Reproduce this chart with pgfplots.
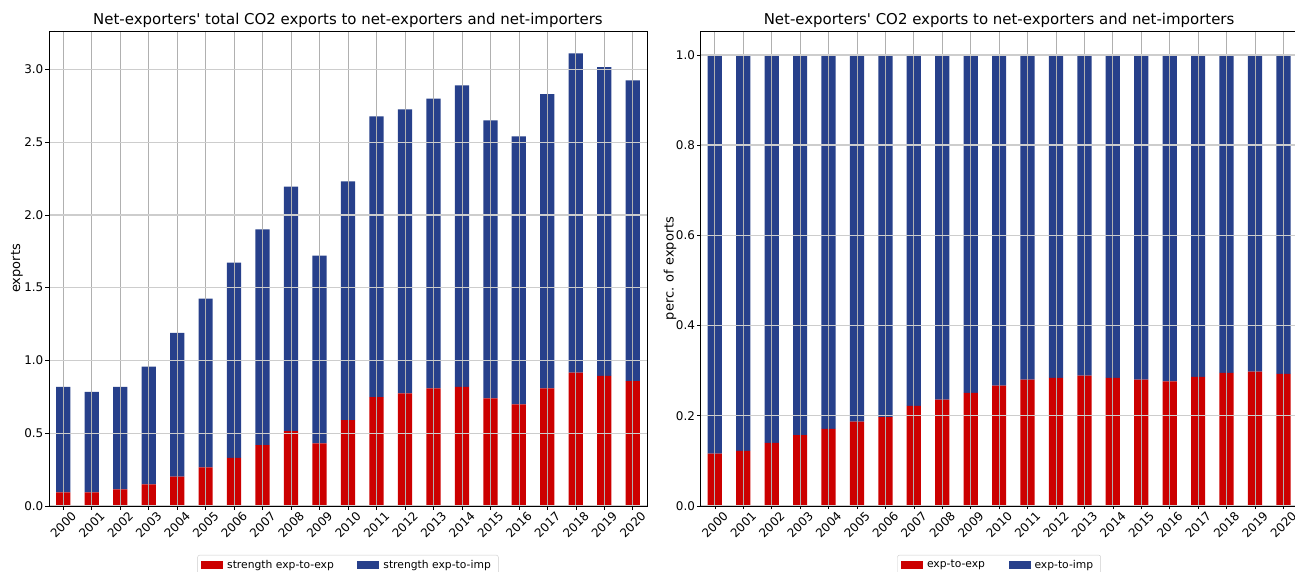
\documentclass[border=0pt]{standalone}
\usepackage{pgfplots}
\pgfplotsset{compat=1.18}
\usepackage{pgfplotstable}
\usepackage{fontspec}
\setmainfont{DejaVu Sans}
\definecolor{cred}{RGB}{204,0,0}
\definecolor{cblue}{RGB}{39,64,139}
\definecolor{gridv}{RGB}{176,176,176}
\definecolor{gridh}{RGB}{205,205,205}
\newcommand\ry[1]{\rotatebox{45}{#1}}
\pgfplotstableread{
x ee ei
0 0.093 0.726
1 0.094 0.691
2 0.114 0.705
3 0.148 0.809
4 0.202 0.988
5 0.265 1.160
6 0.331 1.341
7 0.418 1.482
8 0.515 1.680
9 0.430 1.290
10 0.590 1.640
11 0.748 1.929
12 0.774 1.951
13 0.808 1.992
14 0.818 2.072
15 0.739 1.911
16 0.698 1.842
17 0.808 2.022
18 0.916 2.194
19 0.894 2.121
20 0.858 2.067
}\abs
\pgfplotstableread{
x ee ei
0 0.116 0.884
1 0.122 0.878
2 0.140 0.860
3 0.157 0.843
4 0.171 0.829
5 0.187 0.813
6 0.197 0.803
7 0.222 0.778
8 0.236 0.764
9 0.251 0.749
10 0.267 0.733
11 0.280 0.720
12 0.284 0.716
13 0.289 0.711
14 0.284 0.716
15 0.280 0.720
16 0.276 0.724
17 0.286 0.714
18 0.295 0.705
19 0.298 0.702
20 0.293 0.707
}\rel
\pgfplotsset{
  mystyle/.style={
    scale only axis,
    width=598bp, height=475bp,
    ybar stacked, bar width=0.5,
    xmin=-0.5, xmax=20.5,
    xtick={0,...,20},
    xticklabels={\ry{2000},\ry{2001},\ry{2002},\ry{2003},\ry{2004},\ry{2005},\ry{2006},\ry{2007},\ry{2008},\ry{2009},\ry{2010},\ry{2011},\ry{2012},\ry{2013},\ry{2014},\ry{2015},\ry{2016},\ry{2017},\ry{2018},\ry{2019},\ry{2020}},
    xticklabel style={anchor=north, font=\fontsize{12}{14}\selectfont, inner sep=1pt},
    yticklabel style={font=\fontsize{12}{14}\selectfont, inner sep=2pt},
    /pgf/number format/assume math mode=true,
    xtick pos=bottom, ytick pos=left,
    tick align=outside, major tick length=3.5bp,
    tick style={black, line width=0.6pt},
    axis line style={black, line width=0.8pt},
    axis on top=true,
    xmajorgrids, ymajorgrids,
    x grid style={gridv, line width=0.7pt},
    y grid style={gridh, line width=1.3pt},
    title style={font=\fontsize{15}{17}\selectfont, yshift=-6bp},
    ylabel style={font=\fontsize{13}{15}\selectfont},
    legend style={at={(axis description cs:0.5,-0.103)}, anchor=north, legend columns=2,
      draw=gray!40, rounded corners=2pt, font=\fontsize{10.8}{13}\selectfont,
      inner xsep=3.5pt, inner ysep=3pt,
      /tikz/every even column/.append style={column sep=19.5bp},
      nodes={inner xsep=4pt}},
    legend image code/.code={\fill[#1, sharp corners] (-2bp,-3.8bp) rectangle (20bp,3.8bp);},
  }
}
\begin{document}
\begin{tikzpicture}
\begin{axis}[mystyle, at={(49bp,66bp)}, anchor=south west,
  ymin=0, ymax=3.264,
  ytick={0,0.5,...,3.0},
  yticklabel style={/pgf/number format/fixed, /pgf/number format/fixed zerofill, /pgf/number format/precision=1},
  title={Net-exporters\textquotesingle{} total CO2 exports to net-exporters and net-importers},
  ylabel={exports},
  ylabel style={at={(axis description cs:-0.0535,0.5)}, anchor=center},
]
\addplot[fill=cred, draw=none] table[x=x,y=ee]{\abs};
\addplot[fill=cblue, draw=none] table[x=x,y=ei]{\abs};
\legend{strength exp-to-exp, strength exp-to-imp}
\node[anchor=south west, inner sep=0.5pt, font=\fontsize{5}{6}\selectfont, text=black!70] at (rel axis cs:0,1) {1e12};
\end{axis}
\begin{axis}[mystyle, at={(700.6bp,66bp)}, anchor=south west, width=597bp,
  ymin=0, ymax=1.053,
  ytick={0,0.2,...,1.0},
  yticklabel style={/pgf/number format/fixed, /pgf/number format/fixed zerofill, /pgf/number format/precision=1},
  title={Net-exporters\textquotesingle{} CO2 exports to net-exporters and net-importers},
  ylabel={perc. of exports},
  ylabel style={at={(axis description cs:-0.051,0.5)}, anchor=center},
]
\addplot[fill=cred, draw=none] table[x=x,y=ee]{\rel};
\addplot[fill=cblue, draw=none] table[x=x,y=ei]{\rel};
\legend{exp-to-exp, exp-to-imp}
\end{axis}
\pgfresetboundingbox
\path[use as bounding box] (0bp,0bp) rectangle (1295bp,572bp);
\end{tikzpicture}
\end{document}
